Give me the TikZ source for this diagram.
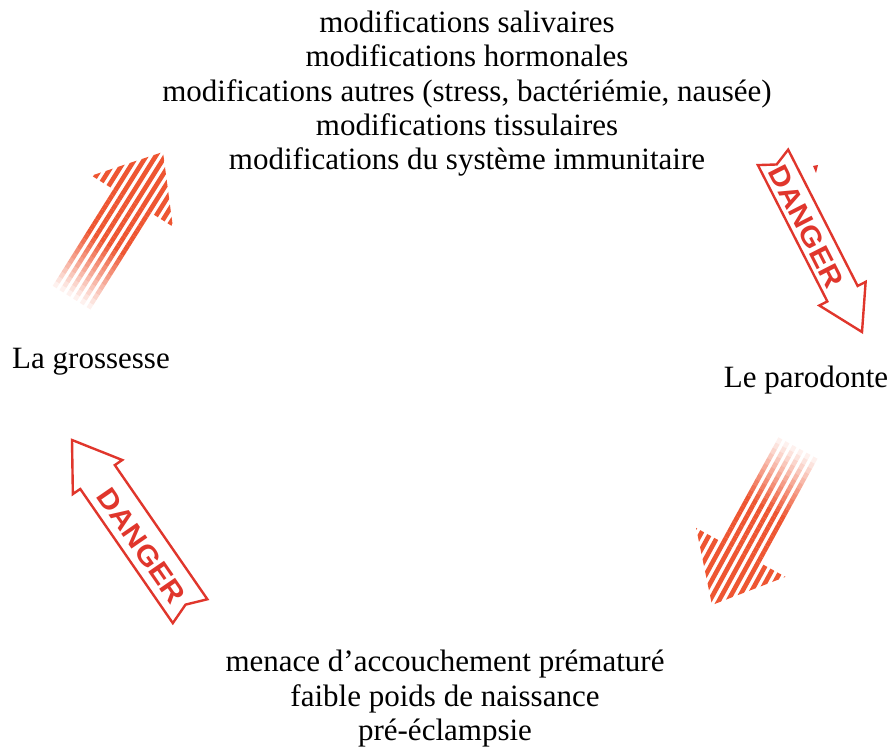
\documentclass[tikz,border=0pt]{standalone}
\usepackage{fontspec}
\setmainfont{Liberation Serif}
\newfontfamily\stampfont{Liberation Sans}
\definecolor{stripecol}{HTML}{EE5632}
\definecolor{dangercol}{HTML}{E0362C}

\tikzset{
  label text/.style={font=\fontsize{31}{34}\selectfont, inner sep=0pt, anchor=base},
  stripe/.style={stripecol, line width=4.6pt},
  ribbon/.style={dangercol, line width=2.4pt, line join=miter, fill=white},
  stamp/.style={dangercol, font=\stampfont\bfseries\fontsize{28}{28}\selectfont, xscale=1.1, inner sep=0pt, transform shape}
}

% Hatched arrow: tip x, tip y, direction, total length, head length, head half-width, shaft half-width
\newcommand\hatcharrow[7]{%
  \begin{scope}[shift={(#1,#2)}, rotate=#3]
    \begin{scope}
      \clip (0,0) -- (-#5,#6) -- (-#5,-#6) -- cycle;
      \foreach \v in {-60,-52,...,60} \draw[stripe] (-#5-1,\v) -- (2,\v);
    \end{scope}
    \pgfmathsetmacro\seglen{(#4-#5)/20}
    \foreach \v in {-20,-12,...,20} {
      \foreach \k in {0,...,19} {
        \pgfmathsetmacro\op{min(1,(20-\k)/12)}
        \draw[stripe, opacity=\op] (-#5-\k*\seglen,\v) -- (-#5-\k*\seglen-\seglen,\v);
      }
    }
  \end{scope}}

% Outlined "DANGER" ribbon arrow: tip x, tip y, direction, length, head length, head half-width, shaft half-width, text rotation, text offset
\newcommand\dangerarrow[9]{%
  \begin{scope}[shift={(#1,#2)}, rotate=#3]
    \draw[ribbon] (0,0) -- (-#5,#6) -- (-#5,#7) -- (-#4,#7) -- (-#4+8,0)
      -- (-#4,-#7) -- (-#5,-#7) -- (-#5,-#6) -- cycle;
    \node[stamp, rotate=#8] at (-#4/2-#5/2,#9) {DANGER};
  \end{scope}}

\begin{document}
\begin{tikzpicture}[x=1pt,y=1pt]
  \useasboundingbox (0,0) rectangle (894,747);

  % effects of pregnancy
  \node[label text] (t1) at (467,714)   {modifications salivaires};
  \node[label text] (t2) at (467,680)   {modifications hormonales};
  \node[label text] (t3) at (467,645)   {modifications autres (stress, bactériémie, nausée)};
  \node[label text] (t4) at (467,611)   {modifications tissulaires};
  \node[label text] (t5) at (467,577)   {modifications du système immunitaire};

  % the two partners
  \node[label text] (preg) at (91,378)  {La grossesse};
  \node[label text] (paro) at (806,359) {Le parodonte};

  % consequences
  \node[label text] (b1) at (445,75) {menace d’accouchement prématuré};
  \node[label text] (b2) at (445,41) {faible poids de naissance};
  \node[label text] (b3) at (445,7)  {pré-éclampsie};

  % hatched arrows
  \hatcharrow{163}{595}{57.9}{172}{58}{48}{21}
  \hatcharrow{712}{142}{241.3}{179}{60}{51}{21}

  % danger ribbons
  \dangerarrow{862}{415}{-63}{196}{43}{26}{17}{0}{-2}
  \dangerarrow{72}{307}{124.6}{208}{45}{30}{21}{180}{3}

  % stray stamp mark
  \fill[dangercol] (813,581) -- (818,582) -- (816,574) -- cycle;
\end{tikzpicture}
\end{document}
